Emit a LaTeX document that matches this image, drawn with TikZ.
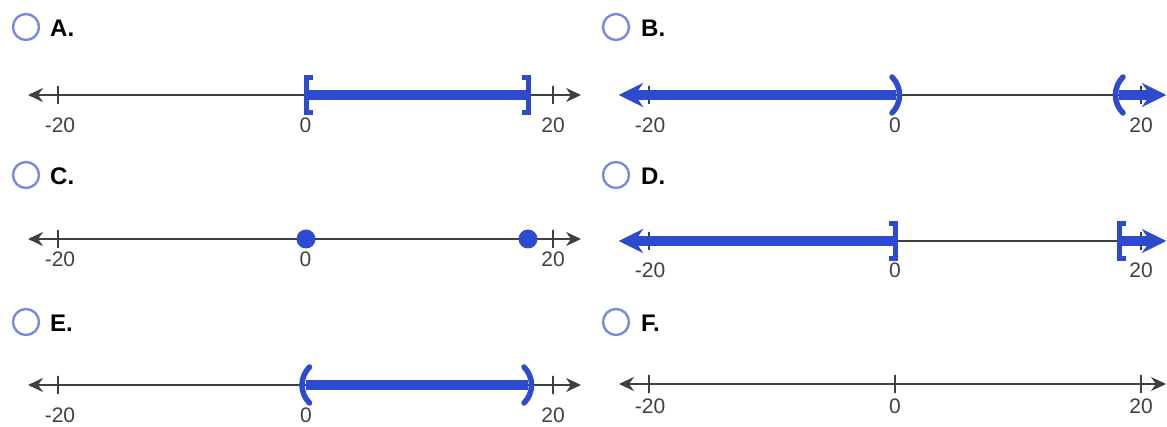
\documentclass[tikz,border=0pt]{standalone}
\usepackage{fontspec}
\setmainfont{Liberation Sans}
\usetikzlibrary{arrows.meta}
\definecolor{axisgray}{RGB}{64,64,64}
\definecolor{solblue}{RGB}{45,75,208}
\definecolor{radioblue}{RGB}{118,138,226}
\tikzstyle{axis}=[draw=axisgray,line width=2.2pt,{Stealth[length=15pt,width=14pt,inset=5pt]}-{Stealth[length=15pt,width=14pt,inset=5pt]}]
\tikzstyle{tickmark}=[draw=axisgray,line width=1.8pt,minimum width=0pt,minimum height=18pt,inner sep=0pt,outer sep=0pt]
\tikzstyle{num}=[text=axisgray,font=\fontsize{21}{21}\selectfont,inner sep=0pt]
\tikzstyle{letter}=[font=\fontsize{24}{24}\bfseries\selectfont,anchor=west,inner sep=0pt]
\tikzstyle{radio}=[circle,draw=radioblue,line width=2.4pt,minimum size=26pt,inner sep=0pt]
\tikzstyle{sol}=[draw=solblue,line width=10pt]
\tikzstyle{solarrow}=[sol,-{Stealth[length=24pt,width=24pt,inset=8pt]}]
\tikzstyle{dot}=[circle,fill=solblue,minimum size=19pt,inner sep=0pt]
\tikzset{
  lbrk/.pic={\draw[solblue,line width=5pt] (6.5,-17.5) -- (0,-17.5) -- (0,17.5) -- (6.5,17.5);},
  rbrk/.pic={\draw[solblue,line width=5pt] (-6.5,-17.5) -- (0,-17.5) -- (0,17.5) -- (-6.5,17.5);},
  lpar/.pic={\draw[solblue,line width=5.5pt,line cap=round] (4,-18) .. controls (-6,-8) and (-6,8) .. (4,18);},
  rpar/.pic={\draw[solblue,line width=5.5pt,line cap=round] (-4,-18) .. controls (6,-8) and (6,8) .. (-4,18);}
}
\begin{document}
\begin{tikzpicture}[x=1pt,y=-1pt]
    \useasboundingbox (0,0) rectangle (1167,427);
    \clip (0,0) rectangle (1167,427);

    % A
    \node[radio] (rA) at (26,27) {};
    \node[letter] (lA) at (50,28) {A.};
    \coordinate (AL) at (28,95);
    \coordinate (AR) at (581,95);
    \draw[axis] (AL) -- (AR);
    \node[tickmark] (Atm) at (58,95) {};
    \node[tickmark] (Atp) at (553,95) {};
    \node[num] (Anm) at (60,125) {-20};
    \node[num] (An0) at (305.5,125) {0};
    \node[num] (Anp) at (553,125) {20};
    \coordinate (Aa) at (306,95);
    \coordinate (Ab) at (528,95);
    \draw[sol] (Aa) -- (Ab);
    \pic at (Aa) {lbrk};
    \pic at (Ab) {rbrk};

    % B
    \node[radio] (rB) at (616,27) {};
    \node[letter] (lB) at (641,28) {B.};
    \coordinate (BL) at (619,95);
    \coordinate (BR) at (1166,95);
    \draw[axis] (BL) -- (BR);
    \node[tickmark] (Btm) at (649,95) {};
    \node[tickmark] (Btp) at (1141,95) {};
    \node[num] (Bnm) at (650,125) {-20};
    \node[num] (Bn0) at (895,125) {0};
    \node[num] (Bnp) at (1141,125) {20};
    \coordinate (Ba) at (896,95);
    \coordinate (Bb) at (1119,95);
    \draw[solarrow] (Ba) -- (BL);
    \draw[solarrow] (Bb) -- (BR);
    \pic at (Ba) {rpar};
    \pic at (Bb) {lpar};

    % C
    \node[radio] (rC) at (26,175) {};
    \node[letter] (lC) at (50,176) {C.};
    \coordinate (CL) at (28,239);
    \coordinate (CR) at (581,239);
    \draw[axis] (CL) -- (CR);
    \node[tickmark] (Ctm) at (58,239) {};
    \node[tickmark] (Ctp) at (553,239) {};
    \node[num] (Cnm) at (60,259) {-20};
    \node[num] (Cn0) at (305.5,259) {0};
    \node[num] (Cnp) at (553,259) {20};
    \node[dot] (Ca) at (306,239) {};
    \node[dot] (Cb) at (528,239) {};

    % D
    \node[radio] (rD) at (616,175) {};
    \node[letter] (lD) at (641,176) {D.};
    \coordinate (DL) at (619,241);
    \coordinate (DR) at (1166,241);
    \draw[axis] (DL) -- (DR);
    \node[tickmark] (Dtm) at (649,241) {};
    \node[tickmark] (Dtp) at (1141,241) {};
    \node[num] (Dnm) at (650,270) {-20};
    \node[num] (Dn0) at (895,270) {0};
    \node[num] (Dnp) at (1141,270) {20};
    \coordinate (Da) at (895,241);
    \coordinate (Db) at (1119,241);
    \draw[solarrow] (Da) -- (DL);
    \draw[solarrow] (Db) -- (DR);
    \pic at (Da) {rbrk};
    \pic at (Db) {lbrk};

    % E
    \node[radio] (rE) at (26,322) {};
    \node[letter] (lE) at (50,323) {E.};
    \coordinate (EL) at (28,385);
    \coordinate (ER) at (581,385);
    \draw[axis] (EL) -- (ER);
    \node[tickmark] (Etm) at (58,385) {};
    \node[tickmark] (Etp) at (553,385) {};
    \node[num] (Enm) at (60,415) {-20};
    \node[num] (En0) at (306,415) {0};
    \node[num] (Enp) at (553,415) {20};
    \coordinate (Ea) at (305.5,385);
    \coordinate (Eb) at (528,385);
    \draw[sol] (Ea) -- (Eb);
    \pic at (Ea) {lpar};
    \pic at (Eb) {rpar};

    % F
    \node[radio] (rF) at (616,322) {};
    \node[letter] (lF) at (641,323) {F.};
    \coordinate (FL) at (619,384);
    \coordinate (FR) at (1166,384);
    \draw[axis] (FL) -- (FR);
    \node[tickmark] (Ftm) at (649,384) {};
    \node[tickmark] (Ft0) at (895,384) {};
    \node[tickmark] (Ftp) at (1141,384) {};
    \node[num] (Fnm) at (650,406) {-20};
    \node[num] (Fn0) at (895,406) {0};
    \node[num] (Fnp) at (1141,406) {20};

\end{tikzpicture}
\end{document}
